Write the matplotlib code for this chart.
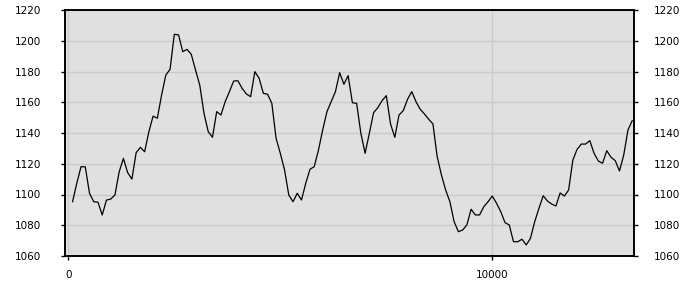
import numpy as np
import matplotlib
matplotlib.use("Agg")
import matplotlib.pyplot as plt

# values read at every 100 units, 100..13300
start = 100
step = 100
values = [
    1095.3, 1107.3, 1118.1, 1118.0, 1100.8, 1095.3, 1095.0, 1086.7, 1096.4, 1097.0,
    1099.7, 1114.8, 1123.5, 1114.2, 1110.0, 1127.2, 1130.7, 1127.8, 1140.8, 1151.0,
    1149.6, 1164.7, 1177.7, 1181.4, 1204.2, 1203.8, 1192.9, 1194.4, 1191.2, 1181.0,
    1171.2, 1152.8, 1140.9, 1137.2, 1153.9, 1151.7, 1160.4, 1166.9, 1173.8, 1174.0,
    1169.0, 1165.4, 1163.6, 1179.9, 1175.6, 1165.8, 1165.2, 1159.3, 1136.6, 1126.8,
    1116.0, 1099.7, 1095.3, 1100.8, 1096.4, 1107.3, 1116.4, 1118.1, 1128.9, 1142.0,
    1153.9, 1160.4, 1166.9, 1179.2, 1171.7, 1177.3, 1159.7, 1159.3, 1139.8, 1126.8,
    1139.8, 1153.2, 1156.5, 1161.0, 1164.3, 1145.9, 1137.2, 1151.7, 1154.5, 1161.9,
    1166.9, 1160.4, 1155.4, 1152.4, 1148.9, 1145.9, 1124.6, 1112.7, 1102.9, 1095.3,
    1082.3, 1075.8, 1076.9, 1080.2, 1090.4, 1086.7, 1086.7, 1092.1, 1095.3, 1099.0,
    1094.3, 1088.8, 1081.7, 1080.2, 1069.3, 1069.3, 1070.9, 1067.2, 1071.5, 1082.3,
    1091.0, 1099.2, 1095.8, 1093.8, 1092.5, 1101.0, 1099.0, 1102.9, 1122.4, 1129.4,
    1132.8, 1132.8, 1135.0, 1126.8, 1121.8, 1120.3, 1128.5, 1124.2, 1122.0, 1115.3,
    1125.7, 1142.0, 1148.0,
]
x = start + step * np.arange(len(values))

y_ticks = [1060, 1080, 1100, 1120, 1140, 1160, 1180, 1200, 1220]
x_ticks = [0, 10000]

fig = plt.figure(figsize=(7, 3), dpi=100)
ax = fig.add_axes([65 / 700, 1 - 256 / 300, (634 - 65) / 700, (256 - 10) / 300])
ax.set_facecolor("#e0e0e0")

ax.plot(x, values, color="black", linewidth=0.9)

ax.set_xlim(-78, 13342)
ax.set_ylim(1060, 1220)
ax.set_yticks(y_ticks)
ax.set_xticks(x_ticks)
ax.set_xticklabels(["0", "10000"])
ax.grid(True, color="#cbcbcb", linewidth=1)
ax.set_axisbelow(True)

ax.tick_params(axis="y", direction="out", length=3, width=1,
               labelsize=7.5, pad=14, colors="black")
ax.tick_params(axis="x", direction="out", length=3, width=1,
               labelsize=7.5, pad=7, colors="black")

# right side labels
ax2 = ax.twinx()
ax2.set_ylim(1060, 1220)
ax2.set_yticks(y_ticks)
ax2.tick_params(axis="y", direction="out", length=3, width=1,
                labelsize=7.5, pad=11, colors="black")

for a in (ax, ax2):
    for s in a.spines.values():
        s.set_linewidth(1.2)
        s.set_color("black")

fig.savefig("out.png", dpi=100, facecolor="white")
